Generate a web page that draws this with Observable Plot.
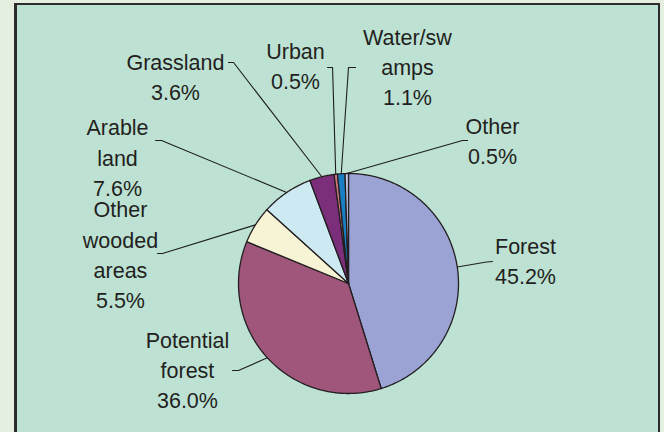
<!DOCTYPE html>
<html>
<head>
<meta charset="utf-8">
<script src="https://cdn.jsdelivr.net/npm/d3@7"></script>
<script src="https://cdn.jsdelivr.net/npm/@observablehq/plot@0.6"></script>
<style>
  html, body { margin: 0; padding: 0; width: 664px; height: 432px; overflow: hidden; background: #e5efdf; }
  #panel {
    position: absolute; left: 14px; top: 3px; width: 641px; height: 460px;
    background: #bde2d4; border: 2px solid #2c2c2c; border-left-width: 3px;
  }
  #chart { position: absolute; left: 0; top: 0; }
</style>
</head>
<body>
<div id="panel"></div>
<div id="chart"></div>
<script>
// Land cover shares (%), clockwise from 12 o'clock
const categories = ["Forest", "Potential forest", "Other wooded areas", "Arable land", "Grassland", "Urban", "Water/swamps", "Other"];
const values = [45.2, 36.0, 5.5, 7.6, 3.6, 0.5, 1.1, 0.5];
const labelLines = [
  ["Forest", "45.2%"],
  ["Potential", "forest", "36.0%"],
  ["Other", "wooded", "areas", "5.5%"],
  ["Arable", "land", "7.6%"],
  ["Grassland", "3.6%"],
  ["Urban", "0.5%"],
  ["Water/sw", "amps", "1.1%"],
  ["Other", "0.5%"]
];
const sliceColors = ["#9aa3d4", "#a0567a", "#f6f4d4", "#cdeaf3", "#7b2f7b", "#d07a7e", "#1a7fc2", "#c6cae8"];

// Label layout, in units of the pie radius from its centre (y downward):
// text block centre, leader elbow, and the end of the short horizontal tick
const labelAt = [[1.609, -0.222], [-1.464, 0.768], [-2.073, -0.278], [-2.10, -1.16], [-1.573, -1.89], [-0.482, -1.99], [0.536, -1.985], [1.309, -1.313]];
const elbowAt = [[1.255, -0.195], [-1.0, 0.791], [-1.691, -0.273], [-1.70, -1.30], [-1.045, -2.009], [-0.145, -1.964], [0.0, -1.964], [1.036, -1.30]];
const tickAt  = [[1.309, -0.20], [-1.055, 0.791], [-1.736, -0.273], [-1.755, -1.30], [-1.091, -2.009], [-0.191, -1.964], [0.064, -1.964], [1.082, -1.30]];

const W = 664, H = 432, CX = 348, CY = 283, R = 110;

const arcs = d3.pie().sort(null).value(d => d)(values);

// Slice outlines: centre -> arc -> centre
const slicePts = arcs.flatMap((a, i) => {
  const name = categories[i];
  const n = Math.max(2, Math.ceil((a.endAngle - a.startAngle) / 0.01));
  const pts = [{name, x: 0, y: 0}];
  for (let k = 0; k <= n; k++) {
    const t = a.startAngle + (a.endAngle - a.startAngle) * k / n;
    pts.push({name, x: Math.sin(t), y: -Math.cos(t)});
  }
  pts.push({name, x: 0, y: 0});
  return pts;
});

// Leader lines from each slice's mid-arc to its label
const leaderPts = arcs.flatMap((a, i) => {
  const name = categories[i];
  const m = (a.startAngle + a.endAngle) / 2;
  return [
    {name, x: Math.sin(m), y: -Math.cos(m)},
    {name, x: elbowAt[i][0], y: elbowAt[i][1]},
    {name, x: tickAt[i][0], y: tickAt[i][1]}
  ];
});

const labels = categories.map((name, i) => ({
  name, text: labelLines[i].join("\n"), x: labelAt[i][0], y: labelAt[i][1]
}));

const chart = Plot.plot({
  width: W,
  height: H,
  margin: 0,
  axis: null,
  x: {domain: [-CX / R, (W - CX) / R], range: [0, W]},
  y: {domain: [-CY / R, (H - CY) / R], range: [0, H]},
  color: {domain: categories, range: sliceColors},
  style: {background: "transparent", fontFamily: "'Liberation Sans', Arial, sans-serif"},
  marks: [
    Plot.line(leaderPts, {x: "x", y: "y", z: "name", stroke: "#1e1e1e", strokeWidth: 1.1}),
    Plot.line(slicePts, {x: "x", y: "y", z: "name", fill: "name", stroke: "#231f20", strokeWidth: 1.3, strokeLinejoin: "round"}),
    Plot.text(labels, {x: "x", y: "y", text: "text", fontSize: 21.5, lineHeight: 1.4, lineAnchor: "middle", textAnchor: "middle", fill: "#231f20"})
  ]
});
document.getElementById("chart").appendChild(chart);
</script>
</body>
</html>
